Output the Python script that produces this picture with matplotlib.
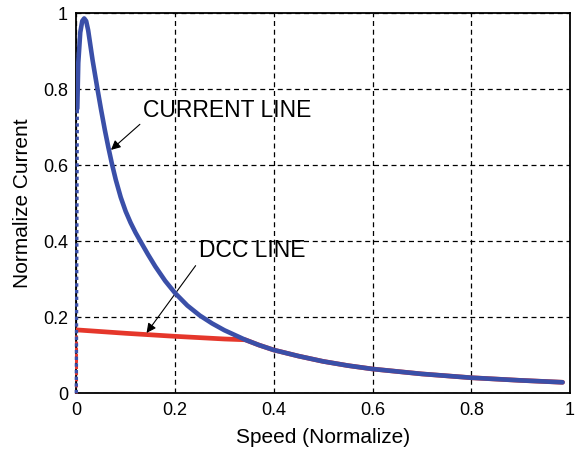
import numpy as np
import matplotlib
matplotlib.use('Agg')
import matplotlib.pyplot as plt

# values (speed, current), both normalised
current_x = [0.0, 0.002, 0.004, 0.008, 0.012, 0.016, 0.020, 0.024, 0.033, 0.043, 0.050,
             0.058, 0.065, 0.072, 0.080, 0.090, 0.100, 0.110, 0.120, 0.130, 0.145,
             0.160, 0.180, 0.200, 0.225, 0.250, 0.275, 0.300, 0.342, 0.370, 0.400,
             0.450, 0.500, 0.550, 0.600, 0.700, 0.800, 0.900, 0.985]
current_y = [0.0, 0.75, 0.87, 0.95, 0.98, 0.987, 0.98, 0.956, 0.877, 0.800, 0.748,
             0.692, 0.647, 0.605, 0.562, 0.516, 0.479, 0.449, 0.423, 0.400, 0.366,
             0.334, 0.296, 0.264, 0.231, 0.205, 0.184, 0.166, 0.141, 0.127, 0.114,
             0.098, 0.084, 0.073, 0.064, 0.051, 0.041, 0.034, 0.029]

dcc_x = [0.0, 0.0, 0.1, 0.2, 0.3, 0.342, 0.370, 0.400, 0.450, 0.500, 0.550, 0.600,
         0.700, 0.800, 0.900, 0.985]
dcc_y = [0.0, 0.167, 0.158, 0.150, 0.143, 0.141, 0.127, 0.114, 0.098, 0.084, 0.073,
         0.064, 0.051, 0.041, 0.034, 0.029]

ticks = [0, 0.2, 0.4, 0.6, 0.8, 1]
tick_labels = ['0', '0.2', '0.4', '0.6', '0.8', '1']

plt.rcParams['font.family'] = ['Liberation Sans', 'DejaVu Sans']

blue = '#3a4fa8'
red = '#e5372b'

fig = plt.figure(figsize=(5.75, 4.54), dpi=100)
ax = fig.add_axes([0.1327, 0.1337, 0.8586, 0.8366])

# vertical start at zero speed is drawn thin and dotted
ax.plot(dcc_x[:2], dcc_y[:2], color=red, lw=2.2, ls=(0, (1, 1)), zorder=3, clip_on=False)
ax.plot(dcc_x[1:], dcc_y[1:], color=red, lw=3.4, solid_capstyle='round', zorder=3)
ax.plot(current_x[:2], current_y[:2], color=blue, lw=2.4, ls=(0, (1, 1)), zorder=4,
        clip_on=False)
ax.plot(current_x[1:], current_y[1:], color=blue, lw=3.3, solid_capstyle='round',
        solid_joinstyle='round', zorder=4)

ax.set_xlim(0, 1)
ax.set_ylim(0, 1)
ax.set_xticks(ticks)
ax.set_xticklabels(tick_labels)
ax.set_yticks(ticks)
ax.set_yticklabels(tick_labels)
ax.tick_params(direction='in', length=0, labelsize=13, pad=6)
ax.grid(True, color='black', ls=(0, (4, 3)), lw=0.9)
for s in ax.spines.values():
    s.set_linewidth(1.3)

ax.set_xlabel('Speed (Normalize)', fontsize=15, labelpad=7)
ax.set_ylabel('Normalize Current', fontsize=15, labelpad=8)

arrow = dict(arrowstyle='-|>', color='black', lw=0.8, mutation_scale=14)
ax.annotate('', xy=(0.066, 0.636), xytext=(0.133, 0.713), arrowprops=arrow)
ax.text(0.136, 0.728, 'CURRENT LINE', fontsize=16.5, va='baseline', ha='left')
ax.annotate('', xy=(0.139, 0.153), xytext=(0.245, 0.342), arrowprops=arrow)
ax.text(0.249, 0.358, 'DCC LINE', fontsize=16.5, va='baseline', ha='left')

fig.savefig('out.png', dpi=100)
